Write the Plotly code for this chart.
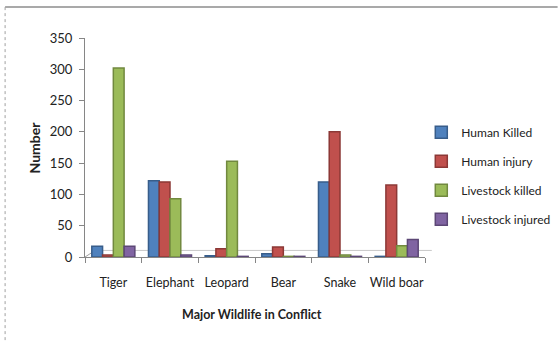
import plotly.graph_objects as go

categories = ["Tiger", "Elephant", "Leopard", "Bear", "Snake", "Wild boar"]
human_killed = [17, 122, 2, 5, 120, 1]
human_injury = [3, 120, 13, 16, 200, 115]
livestock_killed = [302, 93, 153, 1, 3, 18]
livestock_injured = [17, 3, 1, 1, 1, 28]

series = [
    ("Human Killed", human_killed, "#4F81BD", "#385D8A"),
    ("Human injury", human_injury, "#C0504D", "#8C3836"),
    ("Livestock killed", livestock_killed, "#9BBB59", "#71893F"),
    ("Livestock injured", livestock_injured, "#8064A2", "#5C4776"),
]

FONT = "Lato"
fig = go.Figure()
for name, vals, col, edge in series:
    fig.add_trace(go.Bar(
        x=categories, y=vals, name=name, legendgroup=name,
        marker=dict(color=col, line=dict(color=edge, width=1.5)),
    ))

fig.update_layout(
    width=558, height=341,
    margin=dict(l=85, r=133, t=38, b=84, autoexpand=False),
    paper_bgcolor="white", plot_bgcolor="white",
    barmode="group", bargap=0.24, bargroupgap=0.0,
    font=dict(family=FONT, size=12, color="#222"),
    showlegend=True,
    legend=dict(xref="container", yref="container", x=0.755, y=0.655,
                xanchor="left", yanchor="top",
                font=dict(family=FONT, size=12, color="#222"),
                itemwidth=30, tracegroupgap=10, bgcolor="rgba(0,0,0,0)"),
    xaxis=dict(showline=True, linecolor="#868686", linewidth=1,
               ticks="outside", tickson="boundaries", ticklen=5, tickcolor="#868686",
               ticklabelstandoff=14, showgrid=False, tickangle=0,
               tickfont=dict(family=FONT, size=12.5, color="#222")),
    yaxis=dict(range=[0, 350], dtick=50, showline=True, linecolor="#868686", linewidth=1,
               ticks="outside", ticklen=5, tickcolor="#868686", showgrid=False,
               zeroline=False, ticklabelstandoff=4,
               tickfont=dict(family=FONT, size=13, color="#222")),
    annotations=[
        dict(text="<b>Number</b>", x=-0.15, y=0.5, xref="paper", yref="paper",
             textangle=-90, showarrow=False, font=dict(family=FONT, size=14, color="#222"),
             xanchor="center", yanchor="middle"),
        dict(text="<b>Major Wildlife in Conflict</b>", x=0.49, y=-0.22, xref="paper", yref="paper",
             showarrow=False, font=dict(family=FONT, size=12.5, color="#222"),
             xanchor="center", yanchor="top"),
    ],
    shapes=[
        dict(type="line", xref="paper", yref="paper", x0=-0.235, x1=1.39, y0=1.141, y1=1.141,
             line=dict(color="#8C8C8C", width=1.5)),
        dict(type="line", xref="paper", yref="paper", x0=-0.235, x1=-0.235, y0=1.141, y1=-0.4,
             line=dict(color="#A0A0A0", width=1, dash="dot")),
        dict(type="line", xref="paper", yref="paper", x0=0, x1=0.03, y0=0, y1=0.03,
             layer="below", line=dict(color="#A0A0A0", width=1)),
        dict(type="line", xref="paper", yref="paper", x0=0.03, x1=1.02, y0=0.03, y1=0.03,
             layer="below", line=dict(color="#C8C8C8", width=1)),
    ],
)

fig.write_html("out.html")
